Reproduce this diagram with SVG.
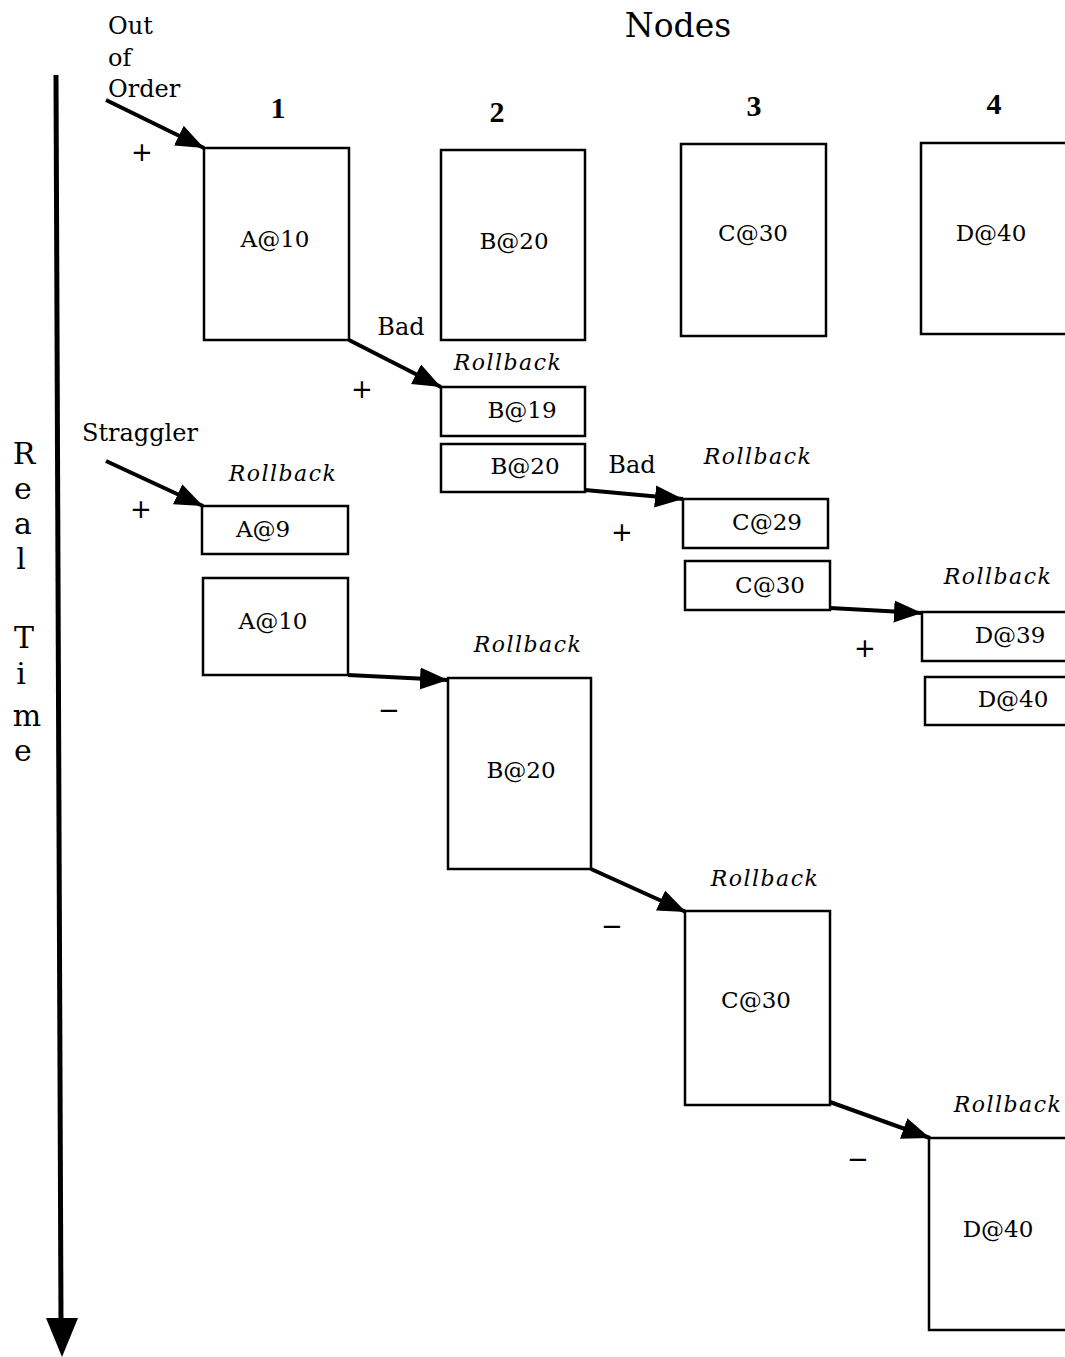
<svg xmlns="http://www.w3.org/2000/svg" width="1065" height="1357" viewBox="0 0 1065 1357">
<defs>
<style>
.box{fill:#fff;stroke:#000;stroke-width:2.5}
.t{font-family:"DejaVu Serif","Liberation Serif",serif;font-size:23px;fill:#000}
.lbl{font-family:"DejaVu Serif","Liberation Serif",serif;font-size:24px;fill:#000}
.big{font-family:"DejaVu Serif","Liberation Serif",serif;font-size:30px;fill:#000}
.ttl{font-family:"DejaVu Serif","Liberation Serif",serif;font-size:33px;fill:#000}
.pm{font-family:"DejaVu Sans","Liberation Sans",sans-serif;font-size:26px;fill:#000}
.it{font-family:"DejaVu Serif","Liberation Serif",serif;font-style:italic;font-size:22px;letter-spacing:1.5px;fill:#000}
.num{font-family:"Liberation Serif",serif;font-weight:bold;font-size:30px;fill:#000}
.c{stroke:#000;stroke-width:4;fill:none}
</style>
<marker id="ah" markerUnits="userSpaceOnUse" markerWidth="30" markerHeight="24" refX="28" refY="12" orient="auto">
<path d="M0,1 L28,12 L0,23 Z" fill="#000"/>
</marker>
</defs>
<g id="axis">
<line x1="56" y1="75" x2="61" y2="1322" stroke="#000" stroke-width="5"/>
<path d="M46,1318 L78,1318 L62,1357 Z" fill="#000"/>
<g text-anchor="middle">
<text class="big" x="24" y="464">R</text>
<text class="big" x="23" y="499">e</text>
<text class="big" x="23" y="534">a</text>
<text class="big" x="21" y="569">l</text>
<text class="big" x="24" y="648">T</text>
<text class="big" x="21" y="684">i</text>
<text class="big" x="27" y="726">m</text>
<text class="big" x="23" y="761">e</text>
</g>
</g>
<g id="titles">
<text class="ttl" x="678" y="37" text-anchor="middle">Nodes</text>
<text class="num" x="278" y="118" text-anchor="middle">1</text>
<text class="num" x="497" y="122" text-anchor="middle">2</text>
<text class="num" x="754" y="116" text-anchor="middle">3</text>
<text class="num" x="994" y="114" text-anchor="middle">4</text>
<text class="lbl" x="108" y="34">Out</text>
<text class="lbl" x="108" y="66">of</text>
<text class="lbl" x="108" y="97">Order</text>
<text class="lbl" x="82" y="441">Straggler</text>
</g>
<g id="connectors">
<line class="c" x1="106" y1="100" x2="204" y2="148" marker-end="url(#ah)"/>
<line class="c" x1="349" y1="340" x2="441" y2="387" marker-end="url(#ah)"/>
<line class="c" x1="585" y1="490" x2="683" y2="499" marker-end="url(#ah)"/>
<line class="c" x1="830" y1="608" x2="922" y2="613" marker-end="url(#ah)"/>
<line class="c" x1="106" y1="461" x2="203" y2="506" marker-end="url(#ah)"/>
<line class="c" x1="348" y1="675" x2="448" y2="680" marker-end="url(#ah)"/>
<line class="c" x1="591" y1="869" x2="686" y2="912" marker-end="url(#ah)"/>
<line class="c" x1="830" y1="1102" x2="930" y2="1138" marker-end="url(#ah)"/>
<g text-anchor="middle">
<text class="pm" x="142" y="161">+</text>
<text class="pm" x="362" y="398">+</text>
<text class="pm" x="622" y="541">+</text>
<text class="pm" x="865" y="657">+</text>
<text class="pm" x="141" y="518">+</text>
<text class="pm" x="389" y="719">−</text>
<text class="pm" x="612" y="935">−</text>
<text class="pm" x="858" y="1168">−</text>
</g>
<text class="lbl" x="401" y="335" text-anchor="middle">Bad</text>
<text class="lbl" x="632" y="473" text-anchor="middle">Bad</text>
<g class="it" text-anchor="middle">
<text x="508" y="370">Rollback</text>
<text x="758" y="464">Rollback</text>
<text x="998" y="584">Rollback</text>
<text x="283" y="481">Rollback</text>
<text x="528" y="652">Rollback</text>
<text x="765" y="886">Rollback</text>
<text x="1008" y="1112">Rollback</text>
</g>
</g>
<g id="n1-A10"><rect class="box" x="204" y="148" width="145" height="192"/><text class="t" x="275" y="247" text-anchor="middle">A@10</text></g>
<g id="n2-B20"><rect class="box" x="441" y="150" width="144" height="190"/><text class="t" x="514" y="249" text-anchor="middle">B@20</text></g>
<g id="n3-C30"><rect class="box" x="681" y="144" width="145" height="192"/><text class="t" x="753" y="241" text-anchor="middle">C@30</text></g>
<g id="n4-D40"><rect class="box" x="921" y="143" width="160" height="191"/><text class="t" x="991" y="241" text-anchor="middle">D@40</text></g>
<g id="n2-B19"><rect class="box" x="441" y="387" width="144" height="49"/><text class="t" x="522" y="418" text-anchor="middle">B@19</text></g>
<g id="n2-B20b"><rect class="box" x="441" y="444" width="144" height="48"/><text class="t" x="525" y="474" text-anchor="middle">B@20</text></g>
<g id="n3-C29"><rect class="box" x="683" y="499" width="145" height="49"/><text class="t" x="767" y="530" text-anchor="middle">C@29</text></g>
<g id="n3-C30b"><rect class="box" x="685" y="561" width="145" height="49"/><text class="t" x="770" y="593" text-anchor="middle">C@30</text></g>
<g id="n4-D39"><rect class="box" x="922" y="612" width="160" height="49"/><text class="t" x="1010" y="643" text-anchor="middle">D@39</text></g>
<g id="n4-D40b"><rect class="box" x="925" y="677" width="160" height="48"/><text class="t" x="1013" y="707" text-anchor="middle">D@40</text></g>
<g id="n1-A9"><rect class="box" x="202" y="506" width="146" height="48"/><text class="t" x="263" y="537" text-anchor="middle">A@9</text></g>
<g id="n1-A10b"><rect class="box" x="203" y="578" width="145" height="97"/><text class="t" x="273" y="629" text-anchor="middle">A@10</text></g>
<g id="n2-B20c"><rect class="box" x="448" y="678" width="143" height="191"/><text class="t" x="521" y="778" text-anchor="middle">B@20</text></g>
<g id="n3-C30c"><rect class="box" x="685" y="911" width="145" height="194"/><text class="t" x="756" y="1008" text-anchor="middle">C@30</text></g>
<g id="n4-D40c"><rect class="box" x="929" y="1138" width="160" height="192"/><text class="t" x="998" y="1237" text-anchor="middle">D@40</text></g>
</svg>
